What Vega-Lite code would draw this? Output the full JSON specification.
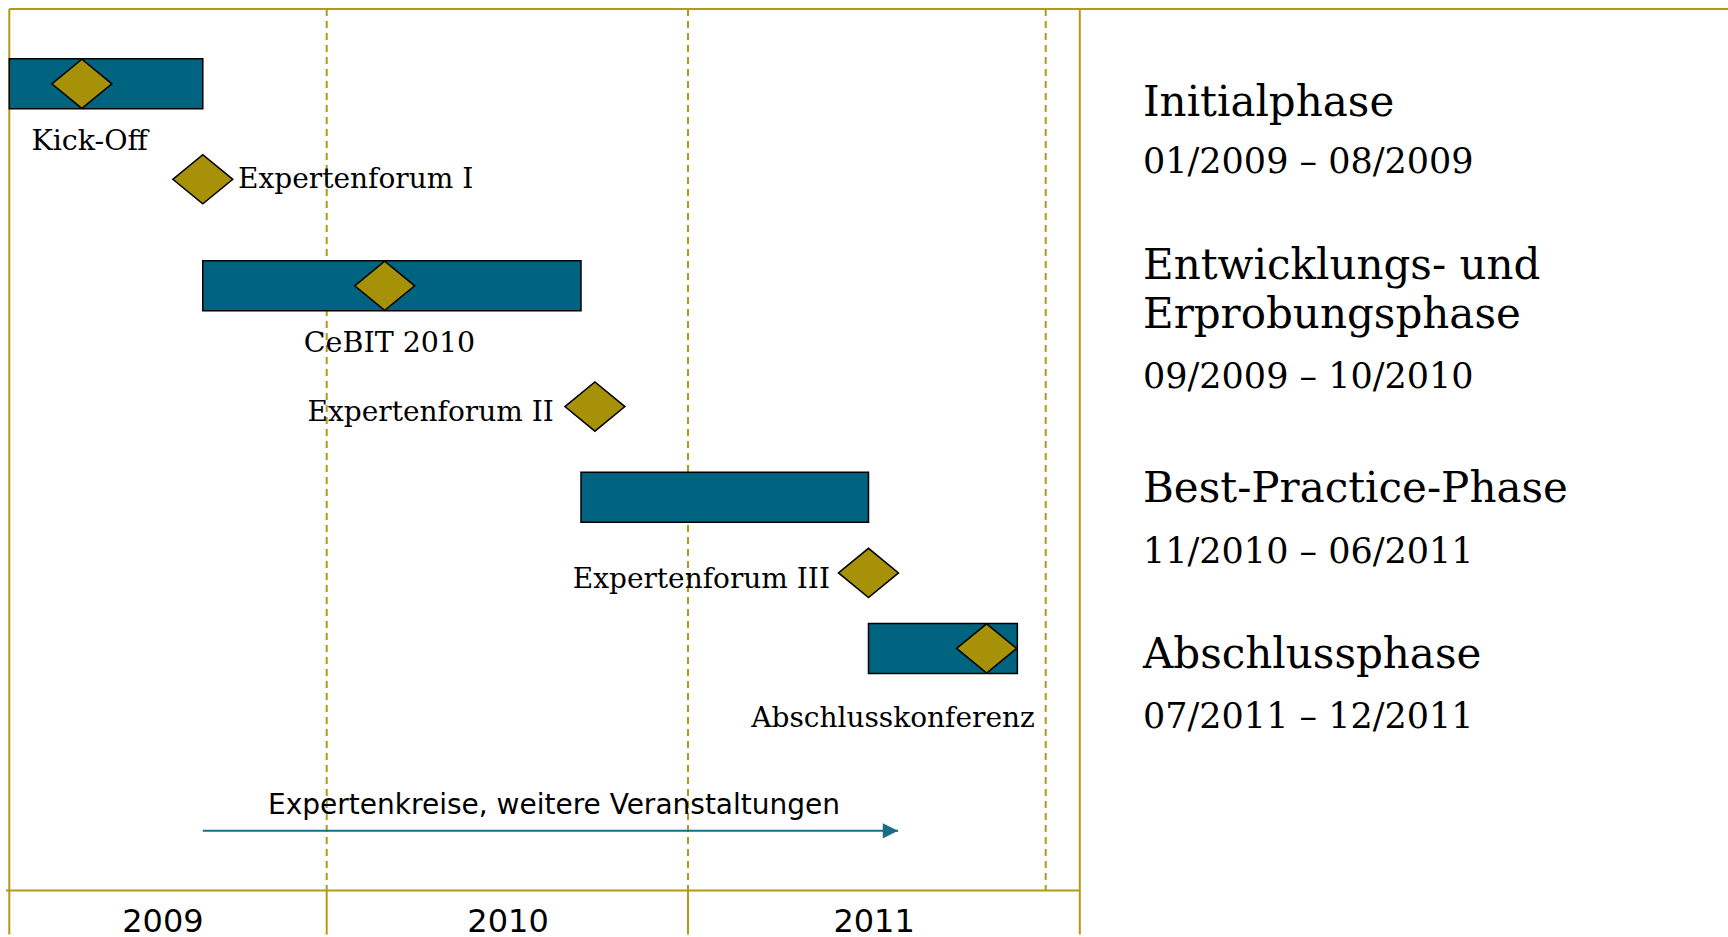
{
  "$schema": "https://vega.github.io/schema/vega-lite/v6.json",
  "width": 1728,
  "height": 937,
  "autosize": {"type": "none"},
  "padding": 0,
  "background": "#ffffff",
  "config": {"view": {"stroke": null}},
  "datasets": {
    "phases": [
      {"phase": "Initialphase", "period": "01/2009 – 08/2009", "start": 0, "end": 8, "row": 1},
      {"phase": "Entwicklungs- und\nErprobungsphase", "period": "09/2009 – 10/2010", "start": 8, "end": 22, "row": 3},
      {"phase": "Best-Practice-Phase", "period": "11/2010 – 06/2011", "start": 22, "end": 30, "row": 5},
      {"phase": "Abschlussphase", "period": "07/2011 – 12/2011", "start": 30, "end": 35.04, "row": 7}
    ],
    "milestones": [
      {"name": "Kick-Off", "m": 3.0, "row": 1, "lm": 3.32},
      {"name": "Expertenforum I", "m": 8, "row": 2, "lm": 9.14},
      {"name": "CeBIT 2010", "m": 14.28, "row": 3, "lm": 14.47},
      {"name": "Expertenforum II", "m": 22.26, "row": 4, "lm": 20.93},
      {"name": "Expertenforum III", "m": 30, "row": 6, "lm": 28.72},
      {"name": "Abschlusskonferenz", "m": 34, "row": 7, "lm": 30.83}
    ],
    "activities": [
      {"label": "Expertenkreise, weitere Veranstaltungen", "start": 8, "end": 31, "row": 8, "lm": 20.94}
    ],
    "years": [
      {"year": "2009", "from": 0, "to": 12, "lm": 6.35},
      {"year": "2010", "from": 12, "to": 24, "lm": 19.13},
      {"year": "2011", "from": 24, "to": 36, "lm": 30.19}
    ]
  },
  "layer": [
    {
      "layer": [
        {
          "data": {"name": "years"},
          "mark": {"type": "rule", "stroke": "#b29a16", "strokeWidth": 2, "strokeDash": [7, 5]},
          "encoding": {
            "x": {"field": "to", "type": "quantitative", "axis": null, "scale": {"type": "linear", "domain": [-0.15, 0, 8, 12, 22, 24, 30, 36, 37, 50], "range": [6, 9.3, 202.8, 326.7, 581, 688, 868.5, 1045.7, 1079.8, 1728], "nice": false, "zero": false}},
            "y": {"datum": 0, "type": "quantitative", "axis": null, "scale": {"type": "linear", "domain": [0, 1, 2, 3, 4, 5, 6, 7, 8, 9, 10], "range": [5, 83.85, 179.3, 285.8, 406.6, 497.3, 572.9, 648.4, 830.8, 890.5, 937], "nice": false, "zero": false}},
            "y2": {"datum": 9}
          }
        },
        {
          "data": {"name": "years"},
          "transform": [{"filter": "datum.year != '2011'"}],
          "mark": {"type": "rule", "stroke": "#b29a16", "strokeWidth": 2},
          "encoding": {
            "x": {"field": "to", "type": "quantitative", "axis": null, "scale": {"type": "linear", "domain": [-0.15, 0, 8, 12, 22, 24, 30, 36, 37, 50], "range": [6, 9.3, 202.8, 326.7, 581, 688, 868.5, 1045.7, 1079.8, 1728], "nice": false, "zero": false}},
            "y": {"datum": 9, "type": "quantitative", "axis": null, "scale": {"type": "linear", "domain": [0, 1, 2, 3, 4, 5, 6, 7, 8, 9, 10], "range": [5, 83.85, 179.3, 285.8, 406.6, 497.3, 572.9, 648.4, 830.8, 890.5, 937], "nice": false, "zero": false}},
            "y2": {"datum": 10}
          }
        },
        {
          "data": {"values": [{"edge": "left", "at": 0}, {"edge": "separator", "at": 37}]},
          "mark": {"type": "rule", "stroke": "#b29a16", "strokeWidth": 2},
          "encoding": {
            "x": {"field": "at", "type": "quantitative", "axis": null, "scale": {"type": "linear", "domain": [-0.15, 0, 8, 12, 22, 24, 30, 36, 37, 50], "range": [6, 9.3, 202.8, 326.7, 581, 688, 868.5, 1045.7, 1079.8, 1728], "nice": false, "zero": false}},
            "y": {"datum": 0, "type": "quantitative", "axis": null, "scale": {"type": "linear", "domain": [0, 1, 2, 3, 4, 5, 6, 7, 8, 9, 10], "range": [5, 83.85, 179.3, 285.8, 406.6, 497.3, 572.9, 648.4, 830.8, 890.5, 937], "nice": false, "zero": false}},
            "y2": {"datum": 10}
          }
        },
        {
          "data": {"values": [{"line": "top", "from": 0, "to": 50, "at": 0}, {"line": "axis", "from": -0.15, "to": 37, "at": 9}]},
          "mark": {"type": "rule", "stroke": "#b29a16", "strokeWidth": 2},
          "encoding": {
            "x": {"field": "from", "type": "quantitative", "axis": null, "scale": {"type": "linear", "domain": [-0.15, 0, 8, 12, 22, 24, 30, 36, 37, 50], "range": [6, 9.3, 202.8, 326.7, 581, 688, 868.5, 1045.7, 1079.8, 1728], "nice": false, "zero": false}},
            "x2": {"field": "to"},
            "y": {"field": "at", "type": "quantitative", "axis": null, "scale": {"type": "linear", "domain": [0, 1, 2, 3, 4, 5, 6, 7, 8, 9, 10], "range": [5, 83.85, 179.3, 285.8, 406.6, 497.3, 572.9, 648.4, 830.8, 890.5, 937], "nice": false, "zero": false}}
          }
        },
        {
          "data": {"name": "years"},
          "mark": {"type": "text", "font": "DejaVu Sans", "fontSize": 32, "align": "center", "baseline": "alphabetic", "dy": -3, "color": "#000000"},
          "encoding": {
            "x": {"field": "lm", "type": "quantitative", "axis": null, "scale": {"type": "linear", "domain": [-0.15, 0, 8, 12, 22, 24, 30, 36, 37, 50], "range": [6, 9.3, 202.8, 326.7, 581, 688, 868.5, 1045.7, 1079.8, 1728], "nice": false, "zero": false}},
            "y": {"datum": 10, "type": "quantitative", "axis": null, "scale": {"type": "linear", "domain": [0, 1, 2, 3, 4, 5, 6, 7, 8, 9, 10], "range": [5, 83.85, 179.3, 285.8, 406.6, 497.3, 572.9, 648.4, 830.8, 890.5, 937], "nice": false, "zero": false}},
            "text": {"field": "year"}
          }
        },
        {
          "data": {"name": "phases"},
          "mark": {"type": "bar", "height": 50, "fill": "#006480", "stroke": "#000000", "strokeWidth": 1.5},
          "encoding": {
            "x": {"field": "start", "type": "quantitative", "axis": null, "scale": {"type": "linear", "domain": [-0.15, 0, 8, 12, 22, 24, 30, 36, 37, 50], "range": [6, 9.3, 202.8, 326.7, 581, 688, 868.5, 1045.7, 1079.8, 1728], "nice": false, "zero": false}},
            "x2": {"field": "end"},
            "y": {"field": "row", "type": "quantitative", "axis": null, "scale": {"type": "linear", "domain": [0, 1, 2, 3, 4, 5, 6, 7, 8, 9, 10], "range": [5, 83.85, 179.3, 285.8, 406.6, 497.3, 572.9, 648.4, 830.8, 890.5, 937], "nice": false, "zero": false}}
          }
        },
        {
          "data": {"name": "activities"},
          "mark": {"type": "rule", "stroke": "#1b6c86", "strokeWidth": 2},
          "encoding": {
            "x": {"field": "start", "type": "quantitative", "axis": null, "scale": {"type": "linear", "domain": [-0.15, 0, 8, 12, 22, 24, 30, 36, 37, 50], "range": [6, 9.3, 202.8, 326.7, 581, 688, 868.5, 1045.7, 1079.8, 1728], "nice": false, "zero": false}},
            "x2": {"field": "end"},
            "y": {"field": "row", "type": "quantitative", "axis": null, "scale": {"type": "linear", "domain": [0, 1, 2, 3, 4, 5, 6, 7, 8, 9, 10], "range": [5, 83.85, 179.3, 285.8, 406.6, 497.3, 572.9, 648.4, 830.8, 890.5, 937], "nice": false, "zero": false}}
          }
        },
        {
          "data": {"name": "activities"},
          "mark": {"type": "point", "shape": "M-1,-0.5L0,0L-1,0.5Z", "size": 936, "filled": true, "fill": "#1b6c86", "strokeWidth": 0, "opacity": 1},
          "encoding": {
            "x": {"field": "end", "type": "quantitative", "axis": null, "scale": {"type": "linear", "domain": [-0.15, 0, 8, 12, 22, 24, 30, 36, 37, 50], "range": [6, 9.3, 202.8, 326.7, 581, 688, 868.5, 1045.7, 1079.8, 1728], "nice": false, "zero": false}},
            "y": {"field": "row", "type": "quantitative", "axis": null, "scale": {"type": "linear", "domain": [0, 1, 2, 3, 4, 5, 6, 7, 8, 9, 10], "range": [5, 83.85, 179.3, 285.8, 406.6, 497.3, 572.9, 648.4, 830.8, 890.5, 937], "nice": false, "zero": false}}
          }
        },
        {
          "data": {"name": "activities"},
          "mark": {"type": "text", "font": "DejaVu Sans", "fontSize": 28, "align": "center", "baseline": "alphabetic", "dy": -17.3, "color": "#000000"},
          "encoding": {
            "x": {"field": "lm", "type": "quantitative", "axis": null, "scale": {"type": "linear", "domain": [-0.15, 0, 8, 12, 22, 24, 30, 36, 37, 50], "range": [6, 9.3, 202.8, 326.7, 581, 688, 868.5, 1045.7, 1079.8, 1728], "nice": false, "zero": false}},
            "y": {"field": "row", "type": "quantitative", "axis": null, "scale": {"type": "linear", "domain": [0, 1, 2, 3, 4, 5, 6, 7, 8, 9, 10], "range": [5, 83.85, 179.3, 285.8, 406.6, 497.3, 572.9, 648.4, 830.8, 890.5, 937], "nice": false, "zero": false}},
            "text": {"field": "label"}
          }
        },
        {
          "data": {"name": "milestones"},
          "mark": {"type": "point", "shape": "M-1,0L0,-0.82L1,0L0,0.82Z", "size": 3600, "filled": true, "fill": "#a69108", "stroke": "#000000", "strokeWidth": 1.5, "opacity": 1},
          "encoding": {
            "x": {"field": "m", "type": "quantitative", "axis": null, "scale": {"type": "linear", "domain": [-0.15, 0, 8, 12, 22, 24, 30, 36, 37, 50], "range": [6, 9.3, 202.8, 326.7, 581, 688, 868.5, 1045.7, 1079.8, 1728], "nice": false, "zero": false}},
            "y": {"field": "row", "type": "quantitative", "axis": null, "scale": {"type": "linear", "domain": [0, 1, 2, 3, 4, 5, 6, 7, 8, 9, 10], "range": [5, 83.85, 179.3, 285.8, 406.6, 497.3, 572.9, 648.4, 830.8, 890.5, 937], "nice": false, "zero": false}}
          }
        },
        {
          "data": {"name": "milestones"},
          "transform": [{"filter": {"field": "name", "oneOf": ["Kick-Off", "CeBIT 2010"]}}],
          "mark": {"type": "text", "font": "DejaVu Serif", "fontSize": 28.5, "align": "center", "baseline": "alphabetic", "dy": 66, "color": "#000000"},
          "encoding": {
            "x": {"field": "lm", "type": "quantitative", "axis": null, "scale": {"type": "linear", "domain": [-0.15, 0, 8, 12, 22, 24, 30, 36, 37, 50], "range": [6, 9.3, 202.8, 326.7, 581, 688, 868.5, 1045.7, 1079.8, 1728], "nice": false, "zero": false}},
            "y": {"field": "row", "type": "quantitative", "axis": null, "scale": {"type": "linear", "domain": [0, 1, 2, 3, 4, 5, 6, 7, 8, 9, 10], "range": [5, 83.85, 179.3, 285.8, 406.6, 497.3, 572.9, 648.4, 830.8, 890.5, 937], "nice": false, "zero": false}},
            "text": {"field": "name"}
          }
        },
        {
          "data": {"name": "milestones"},
          "transform": [{"filter": {"field": "name", "oneOf": ["Abschlusskonferenz"]}}],
          "mark": {"type": "text", "font": "DejaVu Serif", "fontSize": 28, "align": "center", "baseline": "alphabetic", "dy": 78.6, "color": "#000000"},
          "encoding": {
            "x": {"field": "lm", "type": "quantitative", "axis": null, "scale": {"type": "linear", "domain": [-0.15, 0, 8, 12, 22, 24, 30, 36, 37, 50], "range": [6, 9.3, 202.8, 326.7, 581, 688, 868.5, 1045.7, 1079.8, 1728], "nice": false, "zero": false}},
            "y": {"field": "row", "type": "quantitative", "axis": null, "scale": {"type": "linear", "domain": [0, 1, 2, 3, 4, 5, 6, 7, 8, 9, 10], "range": [5, 83.85, 179.3, 285.8, 406.6, 497.3, 572.9, 648.4, 830.8, 890.5, 937], "nice": false, "zero": false}},
            "text": {"field": "name"}
          }
        },
        {
          "data": {"name": "milestones"},
          "transform": [{"filter": {"field": "name", "oneOf": ["Expertenforum I"]}}],
          "mark": {"type": "text", "font": "DejaVu Serif", "fontSize": 28, "align": "left", "baseline": "alphabetic", "dy": 9, "color": "#000000"},
          "encoding": {
            "x": {"field": "lm", "type": "quantitative", "axis": null, "scale": {"type": "linear", "domain": [-0.15, 0, 8, 12, 22, 24, 30, 36, 37, 50], "range": [6, 9.3, 202.8, 326.7, 581, 688, 868.5, 1045.7, 1079.8, 1728], "nice": false, "zero": false}},
            "y": {"field": "row", "type": "quantitative", "axis": null, "scale": {"type": "linear", "domain": [0, 1, 2, 3, 4, 5, 6, 7, 8, 9, 10], "range": [5, 83.85, 179.3, 285.8, 406.6, 497.3, 572.9, 648.4, 830.8, 890.5, 937], "nice": false, "zero": false}},
            "text": {"field": "name"}
          }
        },
        {
          "data": {"name": "milestones"},
          "transform": [{"filter": {"field": "name", "oneOf": ["Expertenforum II", "Expertenforum III"]}}],
          "mark": {"type": "text", "font": "DejaVu Serif", "fontSize": 28, "align": "right", "baseline": "alphabetic", "dy": 14.7, "color": "#000000"},
          "encoding": {
            "x": {"field": "lm", "type": "quantitative", "axis": null, "scale": {"type": "linear", "domain": [-0.15, 0, 8, 12, 22, 24, 30, 36, 37, 50], "range": [6, 9.3, 202.8, 326.7, 581, 688, 868.5, 1045.7, 1079.8, 1728], "nice": false, "zero": false}},
            "y": {"field": "row", "type": "quantitative", "axis": null, "scale": {"type": "linear", "domain": [0, 1, 2, 3, 4, 5, 6, 7, 8, 9, 10], "range": [5, 83.85, 179.3, 285.8, 406.6, 497.3, 572.9, 648.4, 830.8, 890.5, 937], "nice": false, "zero": false}},
            "text": {"field": "name"}
          }
        }
      ]
    },
    {
      "data": {"name": "phases"},
      "mark": {"type": "text", "font": "DejaVu Serif", "fontSize": 42, "align": "left", "baseline": "alphabetic", "lineBreak": "\n", "lineHeight": 49, "color": "#000000"},
      "encoding": {
        "x": {"datum": 0, "type": "quantitative", "axis": null, "scale": {"domain": [0, 1], "range": [1143, 1728], "nice": false, "zero": false}},
        "y": {"field": "row", "type": "quantitative", "axis": null, "scale": {"type": "linear", "domain": [1, 3, 5, 7], "range": [115.7, 278.5, 502.3, 668.3], "nice": false, "zero": false}},
        "text": {"field": "phase"}
      }
    },
    {
      "data": {"name": "phases"},
      "mark": {"type": "text", "font": "DejaVu Serif", "fontSize": 35, "align": "left", "baseline": "alphabetic", "color": "#000000"},
      "encoding": {
        "x": {"datum": 0, "type": "quantitative", "axis": null, "scale": {"domain": [0, 1], "range": [1143, 1728], "nice": false, "zero": false}},
        "y": {"field": "row", "type": "quantitative", "axis": null, "scale": {"type": "linear", "domain": [1, 3, 5, 7], "range": [173.3, 388.3, 563.3, 728.3], "nice": false, "zero": false}},
        "text": {"field": "period"}
      }
    }
  ],
  "resolve": {"scale": {"x": "independent", "y": "independent"}}
}
